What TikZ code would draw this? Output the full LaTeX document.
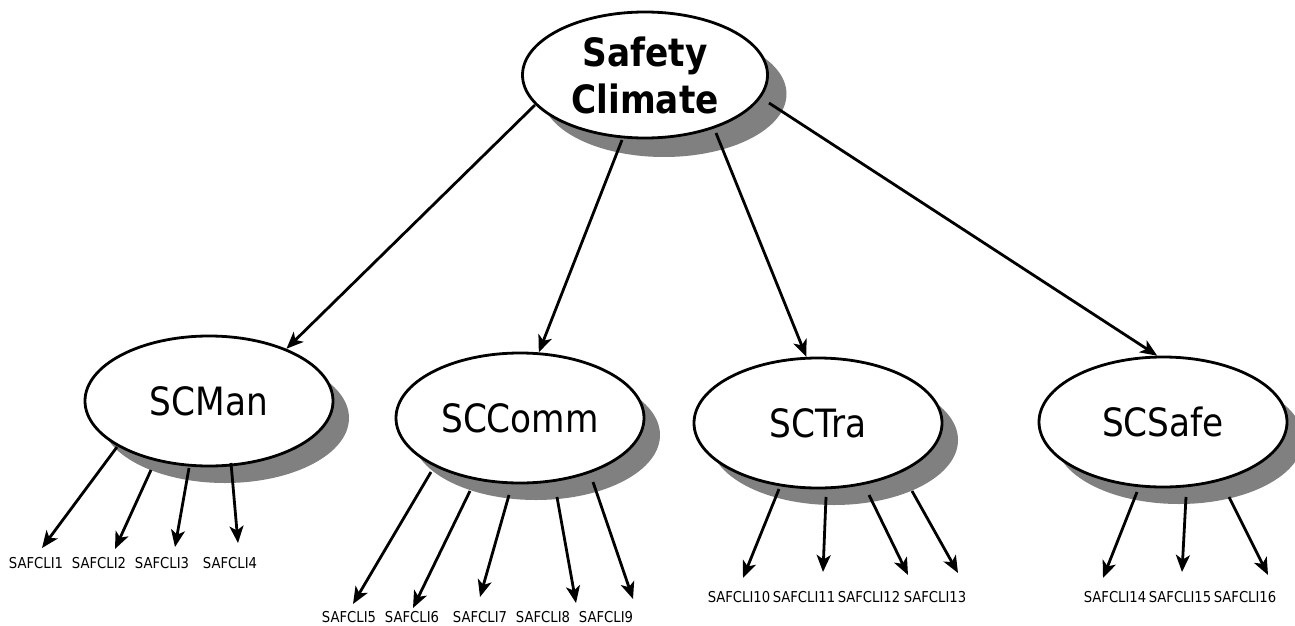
\documentclass[tikz,border=0pt]{standalone}
\usepackage{fontspec}
\setmainfont[FakeStretch=0.88]{DejaVu Sans}
\usetikzlibrary{arrows.meta,shapes.geometric,shadows}
\begin{document}
\begin{tikzpicture}[x=1pt,y=-1pt,
  mainell/.style={ellipse, draw=black, line width=2.8pt, fill=white, inner sep=0pt,
    minimum width=245pt, minimum height=126pt, align=center,
    font=\fontsize{39}{47}\selectfont\bfseries,
    drop shadow={shadow xshift=19pt, shadow yshift=-19pt, fill=black!50, opacity=1}},
  subell/.style={ellipse, draw=black, line width=2.8pt, fill=white, inner sep=0pt,
    minimum width=248pt, minimum height=130pt,
    font=\fontsize{39}{46}\selectfont,
    drop shadow={shadow xshift=16pt, shadow yshift=-17pt, fill=black!50, opacity=1}},
  arr/.style={line width=2.8pt, -{Stealth[length=17pt,width=14pt,inset=4.5pt]}},
  lab/.style={font=\fontsize{15}{18}\selectfont, inner sep=0pt}]
\useasboundingbox (0,0) rectangle (1295,626);

% main and sub constructs
\node[mainell] (main) at (645,75) {Safety\\Climate};
\node[subell] (scman) at (209,401) {SCMan};
\node[subell] (sccomm) at (520,418) {SCComm};
\node[subell] (sctra) at (818,423) {SCTra};
\node[subell] (scsafe) at (1163,422) {SCSafe};

% top-level arrows
\coordinate (m1) at (535,105);
\coordinate (m2) at (622,140);
\coordinate (m3) at (716,133);
\coordinate (m4) at (769,103);
\draw[arr] (m1) -- (scman.34.5);
\draw[arr] (m2) -- (sccomm.74.4);
\draw[arr] (m3) -- (sctra.100.6);
\draw[arr] (m4) -- (scsafe.95.2);

% indicator labels
\node[lab] (l1) at (36,563) {SAFCLI1};
\node[lab] (l2) at (99,563) {SAFCLI2};
\node[lab] (l3) at (162,563) {SAFCLI3};
\node[lab] (l4) at (230,563) {SAFCLI4};
\node[lab] (l5) at (349,617) {SAFCLI5};
\node[lab] (l6) at (412,617) {SAFCLI6};
\node[lab] (l7) at (480,617) {SAFCLI7};
\node[lab] (l8) at (543,617) {SAFCLI8};
\node[lab] (l9) at (606,617) {SAFCLI9};
\node[lab] (l10) at (739,597) {SAFCLI10};
\node[lab] (l11) at (804,597) {SAFCLI11};
\node[lab] (l12) at (869,597) {SAFCLI12};
\node[lab] (l13) at (935,597) {SAFCLI13};
\node[lab] (l14) at (1115,597) {SAFCLI14};
\node[lab] (l15) at (1180,597) {SAFCLI15};
\node[lab] (l16) at (1245,597) {SAFCLI16};

% leaf arrow ends
\coordinate (s1) at (117,447);  \coordinate (t1) at (42,548);
\coordinate (s2) at (151,470);  \coordinate (t2) at (115,549);
\coordinate (s3) at (189,468);  \coordinate (t3) at (175,547);
\coordinate (s4) at (231,463);  \coordinate (t4) at (238,543);
\coordinate (s5) at (431,472);  \coordinate (t5) at (353,604);
\coordinate (s6) at (470,491);  \coordinate (t6) at (413,608);
\coordinate (s7) at (509,495);  \coordinate (t7) at (480,597);
\coordinate (s8) at (557,497);  \coordinate (t8) at (576,603);
\coordinate (s9) at (593,482);  \coordinate (t9) at (633,599);
\coordinate (s10) at (779,489); \coordinate (t10) at (743,578);
\coordinate (s11) at (826,497); \coordinate (t11) at (823,572);
\coordinate (s12) at (869,495); \coordinate (t12) at (908,575);
\coordinate (s13) at (912,491); \coordinate (t13) at (958,573);
\coordinate (s14) at (1137,492); \coordinate (t14) at (1103,578);
\coordinate (s15) at (1186,497); \coordinate (t15) at (1182,572);
\coordinate (s16) at (1229,497); \coordinate (t16) at (1268,575);

\foreach \i in {1,...,16}{
  \draw[arr] (s\i) -- (t\i);
}
\end{tikzpicture}
\end{document}
